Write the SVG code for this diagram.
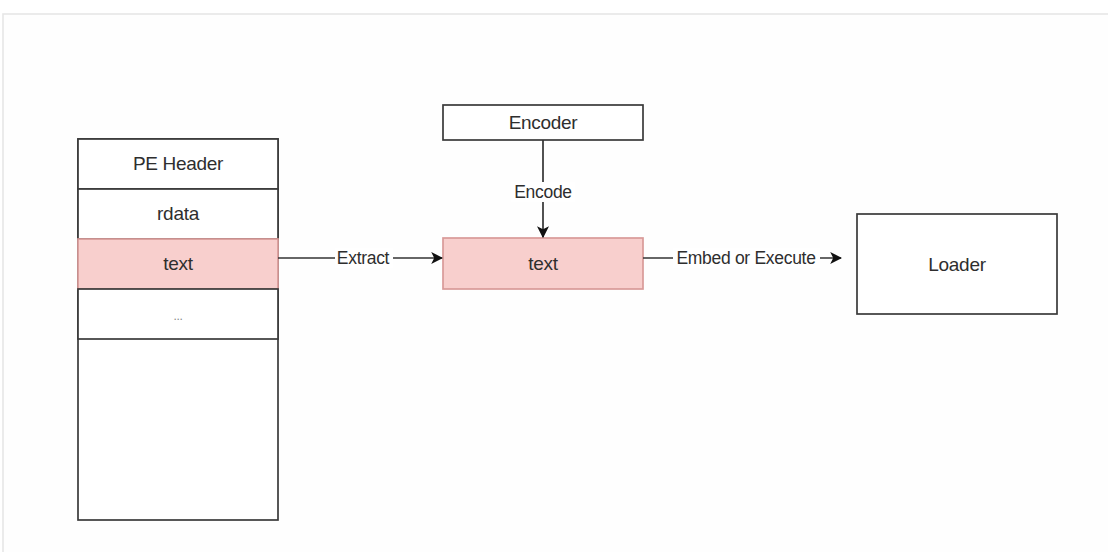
<svg xmlns="http://www.w3.org/2000/svg" width="1108" height="552" viewBox="0 0 1108 552">
<style>
.box{fill:#ffffff;stroke:#3a3a3a;stroke-width:1.7}
.hl{fill:#f8cfcd;stroke:#d99a98;stroke-width:1.7}
.lbl{font-family:"Liberation Sans",Arial,sans-serif;font-size:19px;fill:#2e2e2e;text-anchor:middle;dominant-baseline:central;letter-spacing:-0.3px}
.el{font-family:"Liberation Sans",Arial,sans-serif;font-size:17.5px;fill:#2e2e2e;text-anchor:middle;dominant-baseline:central;letter-spacing:-0.3px}
.edge{stroke:#333333;stroke-width:1.7;fill:none}
.bg{fill:#ffffff}
</style>
<defs>
<marker id="arrb" viewBox="0 0 10 10" refX="9" refY="5" markerWidth="12" markerHeight="12" orient="auto" markerUnits="userSpaceOnUse">
<path d="M0,0 L10,5 L0,10 L2.5,5 Z" fill="#111111"/>
</marker>
</defs>
<rect x="0" y="0" width="1108" height="552" fill="#ffffff"/>
<g id="frame">
<rect x="3" y="14" width="1110" height="545" fill="#fefefe" stroke="#e6e6e6" stroke-width="1.6"/>
</g>
<g id="pe-stack">
<rect class="box" x="78" y="139" width="200" height="381"/>
<g id="pe-header"><rect class="box" x="78" y="139" width="200" height="50"/><text class="lbl" x="178" y="163">PE Header</text></g>
<g id="rdata"><rect class="box" x="78" y="189" width="200" height="50"/><text class="lbl" x="178" y="213">rdata</text></g>
<g id="text-section"><rect class="hl" x="78" y="239" width="200" height="50"/><text class="lbl" x="178" y="263">text</text></g>
<g id="more"><rect class="box" x="78" y="289" width="200" height="50"/><text class="lbl" x="178" y="316" style="font-size:12px;fill:#888888">...</text></g>
</g>
<g id="encoder"><rect class="box" x="443" y="105" width="200" height="35"/><text class="lbl" x="543" y="122">Encoder</text></g>
<g id="text-encoded"><rect class="hl" x="443" y="238" width="200" height="51"/><text class="lbl" x="543" y="263">text</text></g>
<g id="loader"><rect class="box" x="857" y="214" width="200" height="100"/><text class="lbl" x="957" y="264">Loader</text></g>
<g id="connectors">
<line class="edge" x1="278" y1="258" x2="442" y2="258" marker-end="url(#arrb)"/>
<rect class="bg" x="335" y="248" width="58" height="20"/>
<text class="el" x="363" y="258">Extract</text>
<line class="edge" x1="543" y1="140" x2="543" y2="237" marker-end="url(#arrb)"/>
<rect class="bg" x="511" y="182" width="64" height="20"/>
<text class="el" x="543" y="192">Encode</text>
<line class="edge" x1="643" y1="258" x2="841" y2="258" marker-end="url(#arrb)"/>
<rect class="bg" x="673" y="248" width="147" height="20"/>
<text class="el" x="746" y="258">Embed or Execute</text>
</g>
</svg>
